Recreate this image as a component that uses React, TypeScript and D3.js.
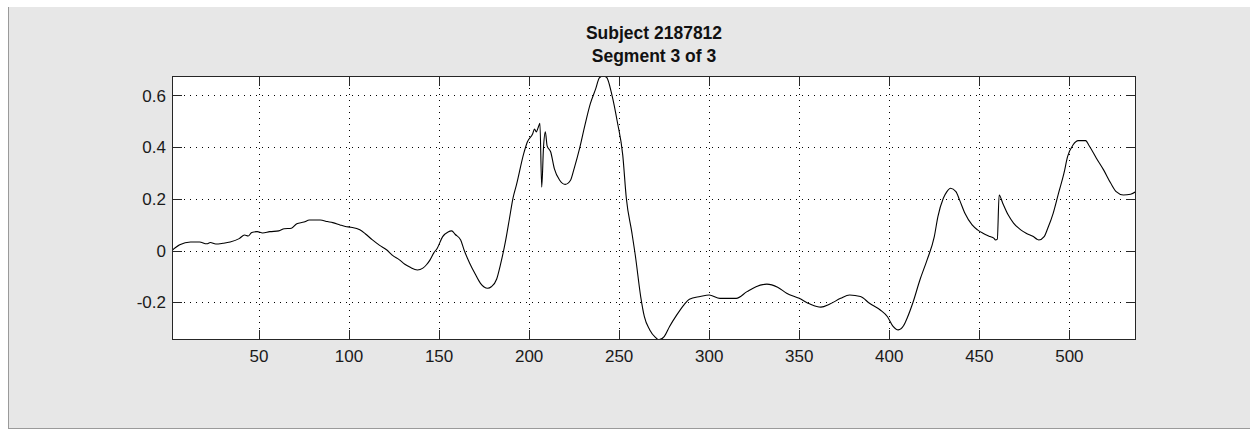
import React from "react";
import * as d3 from "d3";

// Sample index of each reading along the segment
const SAMPLE_INDEX = [
  1, 6, 12, 17, 21, 23, 26, 30, 34, 39, 42, 44, 46, 49, 52, 56, 61, 64, 68, 71,
  75, 78, 84, 88, 91, 95, 98, 101, 106, 109, 113, 117, 121, 124, 128, 131, 134, 138, 141, 143,
  145, 147, 149, 152, 155, 157, 159, 162, 164, 167, 170, 173, 175, 177, 179, 182, 184, 187, 189, 191,
  193, 197, 199, 202, 203, 204, 205, 206, 207, 208, 209, 210, 212, 214, 217, 220, 223, 225, 228, 231,
  234, 237, 239, 241, 243, 246, 249, 252, 254, 257, 259, 262, 264, 267, 270, 272, 275, 278, 282, 286,
  289, 295, 300, 306, 315, 321, 326, 332, 338, 343, 350, 356, 362, 367, 373, 378, 384, 389, 395, 399,
  402, 405, 408, 410, 413, 417, 421, 425, 427, 430, 432, 434, 437, 439, 442, 446, 449, 452, 456, 458,
  459, 460, 461, 463, 466, 469, 473, 476, 480, 482, 483, 486, 488, 491, 494, 497, 499, 502, 505, 509,
  511, 515, 519, 523, 526, 530, 534, 537,
];

// Signal value at each sample
const SIGNAL = [
  -0.004, 0.022, 0.033, 0.033, 0.026, 0.031, 0.025, 0.028, 0.033, 0.046, 0.06, 0.056, 0.07, 0.073, 0.068, 0.073, 0.076, 0.084, 0.086, 0.104,
  0.11, 0.118, 0.118, 0.112, 0.108, 0.099, 0.093, 0.09, 0.08, 0.065, 0.041, 0.02, 0.002, -0.018, -0.036, -0.053, -0.065, -0.075, -0.068, -0.055,
  -0.036, -0.01, 0.009, 0.054, 0.072, 0.076, 0.062, 0.041, 0.0, -0.049, -0.09, -0.127, -0.141, -0.146, -0.14, -0.11, -0.057, 0.04, 0.12, 0.201,
  0.255, 0.375, 0.42, 0.452, 0.47, 0.459, 0.475, 0.492, 0.245, 0.4, 0.459, 0.405, 0.381, 0.317, 0.272, 0.256, 0.272, 0.317, 0.394, 0.485,
  0.568, 0.626, 0.668, 0.675, 0.67, 0.601, 0.497, 0.369, 0.201, 0.072, -0.02, -0.18, -0.256, -0.307, -0.335, -0.345, -0.333, -0.294, -0.249, -0.21,
  -0.188, -0.178, -0.172, -0.185, -0.185, -0.159, -0.14, -0.13, -0.142, -0.165, -0.185, -0.207, -0.219, -0.207, -0.185, -0.172, -0.178, -0.204, -0.23, -0.256,
  -0.292, -0.307, -0.29, -0.26, -0.204, -0.114, -0.036, 0.054, 0.131, 0.202, 0.228, 0.241, 0.228, 0.196, 0.144, 0.099, 0.08, 0.067, 0.054, 0.048,
  0.041, 0.044, 0.215, 0.183, 0.138, 0.106, 0.08, 0.067, 0.054, 0.044, 0.041, 0.054, 0.086, 0.144, 0.222, 0.299, 0.363, 0.408, 0.425, 0.425,
  0.405, 0.357, 0.312, 0.26, 0.228, 0.215, 0.218, 0.228,
];

const X_TICKS = [50, 100, 150, 200, 250, 300, 350, 400, 450, 500];
const Y_TICKS = [-0.2, 0, 0.2, 0.4, 0.6];
const X_LIMITS = [1.7, 537];
const Y_LIMITS = [-0.346, 0.675];
const TITLE_LINES = ["Subject 2187812", "Segment 3 of 3"];

const W = 1250;
const H = 430;
const AX = { left: 172, right: 1136, top: 76, bottom: 340 };
const FONT = "'Liberation Sans', Arial, Helvetica, sans-serif";
const TICK_LEN = 10;

export default function App() {
  const x = d3.scaleLinear().domain(X_LIMITS).range([AX.left, AX.right]);
  const y = d3.scaleLinear().domain(Y_LIMITS).range([AX.bottom, AX.top]);

  const points: [number, number][] = SAMPLE_INDEX.map((s, i) => [s, SIGNAL[i]]);
  const path = d3
    .line<[number, number]>()
    .x((d) => x(d[0]))
    .y((d) => y(d[1]))
    .curve(d3.curveMonotoneX)(points);

  const px = (v: number) => Math.round(x(v)) + 0.5;
  const py = (v: number) => Math.round(y(v)) + 0.5;
  const cx = (AX.left + AX.right) / 2;

  return (
    <svg
      width={W}
      height={H}
      style={{ position: "absolute", left: 0, top: 0, display: "block" }}
    >
      <rect x={0} y={0} width={W} height={H} fill="#ffffff" />
      {/* figure panel */}
      <rect x={8} y={7} width={W - 8} height={422} fill="#e7e7e7" />
      <line x1={8.5} y1={7} x2={8.5} y2={429} stroke="#9a9a9a" />
      <line x1={8} y1={428.5} x2={W} y2={428.5} stroke="#9a9a9a" />

      {/* title */}
      <g fontFamily={FONT} fontWeight="bold" fontSize={17.5} fill="#111" textAnchor="middle">
        <text x={cx} y={39.3}>{TITLE_LINES[0]}</text>
        <text x={cx} y={61.7}>{TITLE_LINES[1]}</text>
      </g>

      {/* axes background */}
      <rect
        x={AX.left}
        y={AX.top}
        width={AX.right - AX.left}
        height={AX.bottom - AX.top}
        fill="#ffffff"
      />

      {/* dotted grid */}
      <g stroke="#000" strokeWidth={1} strokeDasharray="1 5" shapeRendering="crispEdges">
        {X_TICKS.map((t) => (
          <line key={"gx" + t} x1={px(t)} x2={px(t)} y1={AX.top} y2={AX.bottom} />
        ))}
        {Y_TICKS.map((t) => (
          <line key={"gy" + t} x1={AX.left} x2={AX.right} y1={py(t)} y2={py(t)} />
        ))}
      </g>

      {/* signal */}
      <defs>
        <clipPath id="plotClip">
          <rect
            x={AX.left}
            y={AX.top}
            width={AX.right - AX.left}
            height={AX.bottom - AX.top}
          />
        </clipPath>
      </defs>
      <path
        d={path ?? ""}
        fill="none"
        stroke="#000"
        strokeWidth={1.1}
        strokeLinejoin="round"
        clipPath="url(#plotClip)"
      />

      {/* ticks on all four sides */}
      <g stroke="#262626" strokeWidth={1} shapeRendering="crispEdges">
        {X_TICKS.map((t) => (
          <g key={"tx" + t}>
            <line x1={px(t)} x2={px(t)} y1={AX.bottom} y2={AX.bottom - TICK_LEN} />
            <line x1={px(t)} x2={px(t)} y1={AX.top} y2={AX.top + TICK_LEN} />
          </g>
        ))}
        {Y_TICKS.map((t) => (
          <g key={"ty" + t}>
            <line x1={AX.left} x2={AX.left + TICK_LEN} y1={py(t)} y2={py(t)} />
            <line x1={AX.right} x2={AX.right - TICK_LEN} y1={py(t)} y2={py(t)} />
          </g>
        ))}
      </g>

      {/* axes box */}
      <rect
        x={AX.left + 0.5}
        y={AX.top + 0.5}
        width={AX.right - AX.left - 1}
        height={AX.bottom - AX.top - 1}
        fill="none"
        stroke="#262626"
        strokeWidth={1}
      />

      {/* tick labels */}
      <g fontFamily={FONT} fontSize={17} fill="#1a1a1a">
        {X_TICKS.map((t) => (
          <text key={"lx" + t} x={x(t)} y={361.5} textAnchor="middle">
            {t}
          </text>
        ))}
        {Y_TICKS.map((t) => (
          <text key={"ly" + t} x={166} y={y(t) + 6.2} textAnchor="end">
            {String(t)}
          </text>
        ))}
      </g>
    </svg>
  );
}
